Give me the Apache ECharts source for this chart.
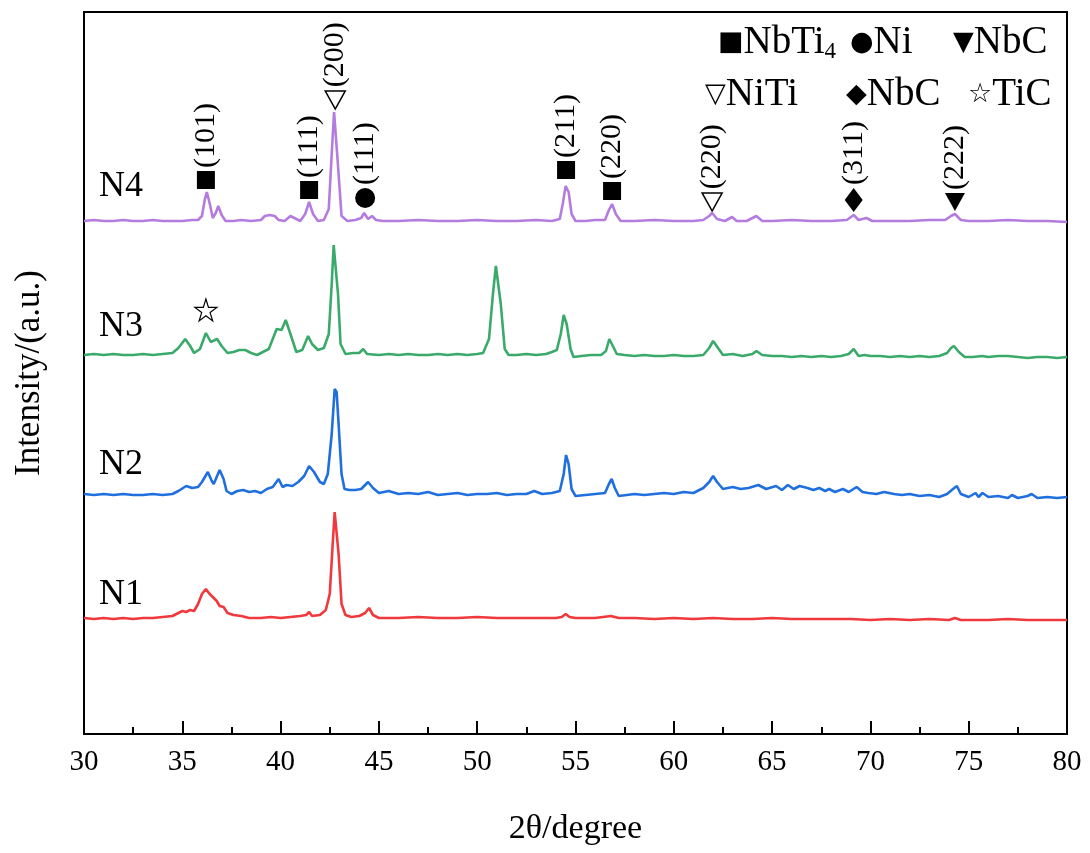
<!DOCTYPE html>
<html>
<head>
<meta charset="utf-8">
<title>XRD N1-N4</title>
<script src="https://cdn.jsdelivr.net/npm/echarts@6/dist/echarts.min.js"></script>
<style>
  html, body { margin: 0; padding: 0; background: #fff; }
  #main { width: 1090px; height: 853px; }
</style>
</head>
<body>
<div id="main"></div>
<script>
// stacked XRD patterns, intensity in a.u. (offset already in the values)
var n1 = [[30,116],[30.5,115],[31,116],[31.5,115],[32,116],[32.5,115],[33,116],[33.5,116],[34,117],[34.5,118],[34.8,121],[35.0,123],[35.2,122],[35.4,124],[35.6,123],[35.8,130],[36.0,140],[36.2,145],[36.35,141],[36.5,138],[36.6,140],[36.75,133],[36.9,128],[37.1,127],[37.3,121],[37.6,119],[38.0,118],[38.4,116],[39,116],[39.5,117],[40,116],[40.5,117],[41,118],[41.3,119],[41.45,122],[41.6,118],[42,119],[42.3,124],[42.5,140],[42.65,190],[42.75,222],[42.85,220],[42.95,180],[43.1,130],[43.3,119],[43.6,117],[44.0,118],[44.3,121],[44.5,126],[44.7,119],[45,116],[46,116],[47,117],[48,116],[49,116],[50,117],[51,116],[52,116],[53,116],[54,116],[54.3,117],[54.5,120],[54.7,117],[55,116],[56,116],[56.8,118],[57.2,116],[58,116],[59,115],[60,116],[61,115],[62,116],[63,115],[64,115],[65,116],[66,115],[67,115],[68,115],[69,115],[70,114],[71,115],[72,114],[73,115],[74,114],[74.3,116],[74.6,114],[75,114],[76,114],[77,115],[78,114],[79,114],[80,114]];

var n2 = [[30,240],[30.5,239],[31,240],[31.5,239],[32,240],[32.5,239],[33,239],[33.5,240],[34,239],[34.5,240],[34.8,243],[35.2,248],[35.5,246],[35.8,247],[36.0,252],[36.3,262],[36.5,253],[36.6,250],[36.9,264],[37.1,255],[37.25,243],[37.5,240],[37.8,243],[38.1,244],[38.4,242],[38.7,243],[39.0,241],[39.3,245],[39.6,247],[39.9,255],[40.1,247],[40.3,249],[40.6,248],[40.9,252],[41.2,258],[41.45,268],[41.7,262],[42.0,252],[42.2,250],[42.4,260],[42.6,300],[42.75,345],[42.85,342],[42.95,310],[43.1,260],[43.25,245],[43.5,244],[43.8,244],[44.1,245],[44.45,252],[44.7,246],[45.0,241],[45.5,243],[46,240],[46.5,241],[47,240],[47.5,242],[48,239],[48.5,240],[49,241],[49.5,239],[50,240],[50.5,240],[51,241],[51.5,239],[52,240],[52.5,240],[52.9,243],[53.3,240],[53.8,241],[54.2,243],[54.4,260],[54.52,279],[54.65,270],[54.8,245],[55,238],[55.5,239],[56,240],[56.5,241],[56.7,250],[56.84,255],[57.0,246],[57.2,238],[57.6,239],[58,240],[58.5,239],[59,240],[59.5,241],[60,240],[60.5,242],[61,241],[61.5,246],[61.8,252],[62.0,258],[62.2,252],[62.5,245],[63.0,247],[63.4,245],[63.8,246],[64.3,249],[64.7,245],[65.2,248],[65.5,244],[65.8,249],[66.1,245],[66.4,248],[66.8,246],[67.1,244],[67.4,246],[67.7,243],[67.9,245],[68.2,242],[68.6,245],[68.9,242],[69.3,247],[69.6,242],[69.9,241],[70.3,240],[70.7,242],[71.2,240],[71.6,239],[72,240],[72.5,238],[73,239],[73.5,237],[73.9,240],[74.2,245],[74.4,248],[74.6,240],[75,237],[75.35,241],[75.5,237],[75.7,241],[76,237],[76.5,238],[77,236],[77.2,239],[77.5,236],[78,238],[78.2,240],[78.5,236],[79,237],[79.1,239],[79.5,236],[80,237]];

var n3 = [[30,379],[30.5,380],[31,379],[31.5,380],[32,379],[32.5,379],[33,380],[33.5,379],[34,380],[34.5,381],[34.8,386],[35.15,395],[35.4,388],[35.6,381],[35.9,385],[36.2,401],[36.45,392],[36.55,390],[36.77,395],[37.0,388],[37.3,381],[37.6,382],[37.9,384],[38.2,384],[38.5,381],[38.8,379],[39.1,382],[39.4,385],[39.8,405],[40.05,404],[40.26,414],[40.5,400],[40.8,382],[41.1,384],[41.4,398],[41.6,390],[41.9,384],[42.2,386],[42.45,400],[42.6,450],[42.7,489],[42.8,488],[42.92,440],[43.05,390],[43.3,380],[43.7,381],[44.0,381],[44.2,385],[44.4,380],[45,379],[45.5,380],[46,379],[46.5,380],[47,379],[47.5,379],[48,380],[48.5,379],[49,380],[49.5,379],[50,380],[50.3,381],[50.6,395],[50.8,440],[50.95,468],[51.05,466],[51.2,430],[51.4,385],[51.6,379],[52,379],[52.5,380],[53,379],[53.5,380],[53.8,382],[54.05,384],[54.25,400],[54.4,419],[54.55,410],[54.75,385],[54.9,377],[55.3,378],[55.8,379],[56.3,379],[56.55,383],[56.72,395],[56.9,388],[57.1,380],[57.5,379],[58,378],[58.5,379],[59,378],[59.5,378],[60,379],[60.5,378],[61,378],[61.5,379],[61.8,386],[62.0,393],[62.25,386],[62.5,379],[63,380],[63.5,378],[64,380],[64.2,383],[64.5,379],[65,378],[65.5,378],[66,377],[66.5,378],[67,377],[67.5,378],[68,377],[68.5,378],[68.9,380],[69.15,385],[69.4,378],[69.7,379],[70,378],[70.5,378],[71,377],[71.5,378],[72,377],[72.5,378],[73,377],[73.5,378],[73.9,381],[74.1,386],[74.25,388],[74.5,382],[74.8,377],[75.2,377],[75.7,378],[76,377],[76.5,378],[77,378],[77.5,377],[78,376],[78.5,377],[79,377],[79.5,376],[80,377]];

var n4 = [[30,513],[30.5,514],[31,513],[31.5,513],[32,514],[32.5,513],[33,513],[33.5,514],[34,513],[34.5,513],[35,513],[35.5,514],[35.8,514],[36.0,518],[36.15,535],[36.25,542],[36.4,530],[36.55,516],[36.7,521],[36.83,528],[37.0,519],[37.2,513],[37.6,513],[38,514],[38.5,513],[39,514],[39.2,518],[39.45,519],[39.7,518],[39.9,514],[40.2,513],[40.5,518],[40.7,516],[41.0,513],[41.25,520],[41.45,532],[41.65,520],[41.9,513],[42.2,514],[42.45,525],[42.6,580],[42.72,622],[42.82,620],[42.95,560],[43.1,518],[43.4,513],[43.8,514],[44.1,516],[44.25,521],[44.45,515],[44.65,518],[44.85,514],[45.2,513],[46,513],[47,514],[48,513],[49,513],[50,514],[51,513],[52,513],[53,514],[53.8,513],[54.2,515],[54.35,530],[54.5,548],[54.65,542],[54.8,520],[55,513],[55.5,513],[56,514],[56.5,514],[56.7,524],[56.86,530],[57.05,520],[57.3,513],[58,513],[59,514],[60,513],[61,513],[61.5,514],[61.8,518],[61.95,521],[62.2,515],[62.6,513],[62.96,517],[63.2,513],[63.7,513],[64.2,518],[64.5,513],[65,513],[66,514],[67,513],[68,513],[68.8,514],[69.15,519],[69.4,514],[69.8,516],[70.1,513],[71,513],[72,513],[73,514],[73.8,514],[74.1,518],[74.3,520],[74.6,514],[75,513],[76,513],[77,514],[78,513],[79,513],[80,512]];

var sampleNames = ['N1', 'N2', 'N3', 'N4'];
var sampleColors = ['#f0393c', '#1f6fdf', '#3aaa6b', '#b57ce0'];

// peak markers on N4 (and TiC star on N3)
var peakPos   = [36.2, 41.45, 42.78, 44.3, 54.52, 56.86, 61.95, 69.15, 74.3, 36.2];
var peakMarkY = [554, 544, 634, 536, 564, 543, 532, 534, 532, 424];
var peakHkl   = ['(101)', '(111)', '(200)', '(111)', '(211)', '(220)', '(220)', '(311)', '(222)', ''];
var peakPhase = ['NbTi4', 'NbTi4', 'NiTi', 'Ni', 'NbTi4', 'NbTi4', 'NiTi', 'NbC-d', 'NbC-t', 'TiC'];

var starPath = 'path://M50,0 L61.2,34.5 L97.6,34.5 L68.2,55.9 L79.4,90.5 L50,69.1 L20.6,90.5 L31.8,55.9 L2.4,34.5 L38.8,34.5 Z';
var phaseStyle = {
    'NbTi4': { symbol: 'rect', symbolSize: 18, symbolRotate: 0, itemStyle: { color: '#000', opacity: 1 } },
    'Ni':    { symbol: 'circle', symbolSize: 20, symbolRotate: 0, itemStyle: { color: '#000', opacity: 1 } },
    'NbC-t': { symbol: 'triangle', symbolSize: [20, 18], symbolRotate: 180, itemStyle: { color: '#000', opacity: 1 } },
    'NiTi':  { symbol: 'triangle', symbolSize: [20, 18], symbolRotate: 180, itemStyle: { color: '#fff', borderColor: '#000', borderWidth: 1.5, opacity: 1 } },
    'NbC-d': { symbol: 'diamond', symbolSize: [18, 24], symbolRotate: 0, itemStyle: { color: '#000', opacity: 1 } },
    'TiC':   { symbol: starPath, symbolSize: 22, symbolRotate: 0, itemStyle: { color: '#fff', borderColor: '#000', borderWidth: 1.2, opacity: 1 } }
};

var serif = '"Liberation Serif", "Times New Roman", serif';
var dom = document.getElementById('main');
var myChart = echarts.init(dom);

var lineSeries = [n1, n2, n3, n4].map(function (d, i) {
    return {
        name: sampleNames[i],
        type: 'line',
        data: d,
        showSymbol: false,
        symbol: 'none',
        lineStyle: { color: sampleColors[i], width: 2.6 },
        z: 2
    };
});

var markData = peakPos.map(function (x, i) {
    var st = phaseStyle[peakPhase[i]];
    return {
        value: [x, peakMarkY[i]],
        name: peakHkl[i],
        symbol: st.symbol,
        symbolSize: st.symbolSize,
        symbolRotate: st.symbolRotate,
        itemStyle: st.itemStyle
    };
});

// legend of phases as plain text
var legendRows = [
    { y: 46, items: [['■', 'NbTi', '4'], ['●', 'Ni', ''], ['▼', 'NbC', '']], xs: [718, 850, 953] },
    { y: 98, items: [['▽', 'NiTi', ''], ['◆', 'NbC', ''], ['☆', 'TiC', '']], xs: [705, 846, 968] }
];
var graphics = [];
legendRows.forEach(function (row) {
    row.items.forEach(function (it, k) {
        graphics.push({
            type: 'text',
            left: row.xs[k],
            top: row.y - 23,
            style: {
                text: '{s|' + it[0] + '}{t|' + it[1] + '}' + (it[2] ? '{sub|' + it[2] + '}' : ''),
                rich: {
                    s: { fontSize: 27, fontFamily: 'DejaVu Sans', fill: '#000', verticalAlign: 'middle' },
                    t: { fontSize: 39, fontFamily: serif, fill: '#000' },
                    sub: { fontSize: 23, fontFamily: serif, fill: '#000', padding: [19, 0, 0, 0] }
                }
            }
        });
    });
});
var nameY = [598, 468, 330, 190];
sampleNames.forEach(function (n, i) {
    graphics.push({
        type: 'text',
        left: 99,
        top: nameY[i] - 21,
        style: { text: n, fontSize: 36, fontFamily: serif, fill: '#000' }
    });
});

var option = {
    animation: false,
    backgroundColor: '#fff',
    grid: { left: 84, right: 23, top: 12, bottom: 119, show: true, borderColor: '#000', borderWidth: 2 },
    xAxis: {
        type: 'value',
        min: 30,
        max: 80,
        interval: 5,
        name: '2θ/degree',
        nameLocation: 'middle',
        nameGap: 78,
        nameTextStyle: { fontSize: 34, fontFamily: serif, color: '#000' },
        axisLine: { show: true, lineStyle: { color: '#000', width: 2 } },
        axisTick: { show: true, inside: true, length: 13, lineStyle: { color: '#000', width: 2 } },
        minorTick: { show: true, splitNumber: 2, length: 7, lineStyle: { color: '#000', width: 2 } },
        axisLabel: { fontSize: 29, fontFamily: serif, color: '#000', margin: 14 },
        splitLine: { show: false }
    },
    yAxis: {
        type: 'value',
        min: 0,
        max: 722,
        name: 'Intensity/(a.u.)',
        nameLocation: 'middle',
        nameGap: 37,
        nameRotate: 90,
        nameTextStyle: { fontSize: 35, fontFamily: serif, color: '#000' },
        axisLine: { show: false },
        axisTick: { show: false },
        axisLabel: { show: false },
        splitLine: { show: false }
    },
    graphic: graphics,
    series: lineSeries.concat([{
        name: 'peaks',
        type: 'scatter',
        data: markData,
        z: 5,
        label: {
            show: true,
            position: 'top',
            rotate: 90,
            align: 'left',
            verticalAlign: 'middle',
            distance: 3,
            formatter: '{b}',
            fontSize: 30,
            fontFamily: serif,
            color: '#000'
        }
    }])
};

if (option && typeof option === 'object') {
    myChart.setOption(option, true);
}
</script>
</body>
</html>
